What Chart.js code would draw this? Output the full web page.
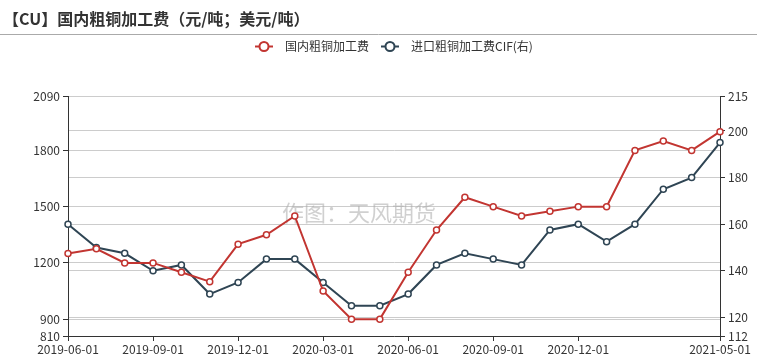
<!DOCTYPE html>
<html>
<head>
<meta charset="utf-8">
<script src="https://cdn.jsdelivr.net/npm/chart.js@4.4.1/dist/chart.umd.min.js"></script>
<style>
  html, body { margin: 0; padding: 0; background: #fff; }
  #wrap { width: 757px; height: 360px; }
</style>
</head>
<body>
<div id="wrap"><canvas id="cuChart" width="757" height="360"></canvas></div>
<script>
  // Months on the x axis
  const months = [
    '2019-06-01', '2019-07-01', '2019-08-01', '2019-09-01', '2019-10-01', '2019-11-01',
    '2019-12-01', '2020-01-01', '2020-02-01', '2020-03-01', '2020-04-01', '2020-05-01',
    '2020-06-01', '2020-07-01', '2020-08-01', '2020-09-01', '2020-10-01', '2020-11-01',
    '2020-12-01', '2021-01-01', '2021-02-01', '2021-03-01', '2021-04-01', '2021-05-01'
  ];
  // Domestic blister copper processing fee (yuan/t), left axis
  const domesticFee = [1250, 1275, 1200, 1200, 1150, 1100, 1300, 1350, 1450, 1050, 900, 900,
                       1150, 1375, 1550, 1500, 1450, 1475, 1500, 1500, 1800, 1850, 1800, 1900];
  // Imported blister copper processing fee CIF (usd/t), right axis
  const importFee = [160, 150, 147.5, 140, 142.5, 130, 135, 145, 145, 135, 125, 125,
                     130, 142.5, 147.5, 145, 142.5, 157.5, 160, 152.5, 160, 175, 180, 195];
  // Tick labels
  const leftTicks = [810, 900, 1200, 1500, 1800, 2090];
  const rightTicks = [112, 120, 140, 160, 180, 200, 215];
  const shownMonths = [0, 3, 6, 9, 12, 15, 18, 23];

  const FONT = '"Noto Sans CJK SC", "Noto Sans", sans-serif';
  const RED = '#c23531';
  const DARK = '#2f4554';

  // title, separator, legend and watermark
  const decor = {
    id: 'decor',
    beforeDatasetsDraw(chart) {
      const c = chart.ctx;
      c.save();
      c.font = '22px ' + FONT;
      c.fillStyle = 'rgba(170,170,170,0.55)';
      c.textAlign = 'center';
      c.textBaseline = 'middle';
      c.fillText('作图：天风期货', 359, 213);
      c.restore();
    },
    afterDraw(chart) {
      const c = chart.ctx;
      c.save();
      c.font = 'bold 16px ' + FONT;
      c.fillStyle = '#333';
      c.textBaseline = 'middle';
      c.fillText('【CU】国内粗铜加工费（元/吨；美元/吨）', 3, 19);
      c.strokeStyle = '#aaa';
      c.lineWidth = 1;
      c.beginPath();
      c.moveTo(0, 34.5);
      c.lineTo(757, 34.5);
      c.stroke();

      const items = [
        { text: '国内粗铜加工费', color: RED, x: 255, tx: 285 },
        { text: '进口粗铜加工费CIF(右)', color: DARK, x: 381, tx: 411 }
      ];
      const y = 46.5;
      c.font = '12px ' + FONT;
      items.forEach(it => {
        c.strokeStyle = it.color;
        c.lineWidth = 2;
        c.beginPath();
        c.moveTo(it.x, y);
        c.lineTo(it.x + 18, y);
        c.stroke();
        c.beginPath();
        c.arc(it.x + 9, y, 4.5, 0, Math.PI * 2);
        c.fillStyle = '#fff';
        c.fill();
        c.stroke();
        c.fillStyle = '#333';
        c.fillText(it.text, it.tx, y);
      });
      c.restore();
    }
  };

  const pointOpts = {
    pointRadius: 3,
    pointHoverRadius: 4,
    pointBackgroundColor: '#fff',
    pointBorderWidth: 1.5,
    borderWidth: 2,
    tension: 0
  };

  const cuConfig = {
    type: 'line',
    data: {
      labels: months,
      datasets: [
        Object.assign({
          label: '国内粗铜加工费',
          data: domesticFee,
          borderColor: RED,
          pointBorderColor: RED,
          yAxisID: 'y'
        }, pointOpts),
        Object.assign({
          label: '进口粗铜加工费CIF(右)',
          data: importFee,
          borderColor: DARK,
          pointBorderColor: DARK,
          yAxisID: 'y1'
        }, pointOpts)
      ]
    },
    options: {
      responsive: false,
      animation: false,
      layout: { padding: { top: 96, left: 0, right: 0, bottom: 0 } },
      plugins: {
        legend: { display: false },
        tooltip: { enabled: false }
      },
      scales: {
        x: {
          afterBuildTicks: s => { s.ticks = s.ticks.filter(t => shownMonths.includes(t.value)); },
          afterFit: s => { s.height = 24; },
          ticks: {
            autoSkip: false,
            maxRotation: 0,
            padding: 1,
            color: '#333',
            font: { family: FONT, size: 12 }
          },
          grid: { drawOnChartArea: false, tickLength: 5, tickColor: '#333' },
          border: { color: '#333' }
        },
        y: {
          position: 'left',
          min: 810,
          max: 2090,
          afterBuildTicks: s => { s.ticks = leftTicks.map(v => ({ value: v })); },
          afterFit: s => { s.width = 68; },
          ticks: { color: '#333', padding: 3, font: { family: FONT, size: 12 }, callback: v => String(v) },
          grid: { color: '#ccc', tickLength: 5, tickColor: '#333' },
          border: { color: '#333' }
        },
        y1: {
          position: 'right',
          min: 112,
          max: 215,
          afterBuildTicks: s => { s.ticks = rightTicks.map(v => ({ value: v })); },
          afterFit: s => { s.width = 37; },
          ticks: { color: '#333', padding: 3, font: { family: FONT, size: 12 }, callback: v => String(v) },
          grid: { color: '#ccc', tickLength: 5, tickColor: '#333' },
          border: { color: '#333' }
        }
      }
    },
    plugins: [decor]
  };

  const ctx = document.getElementById('cuChart').getContext('2d');
  new Chart(ctx, cuConfig);
</script>
</body>
</html>
